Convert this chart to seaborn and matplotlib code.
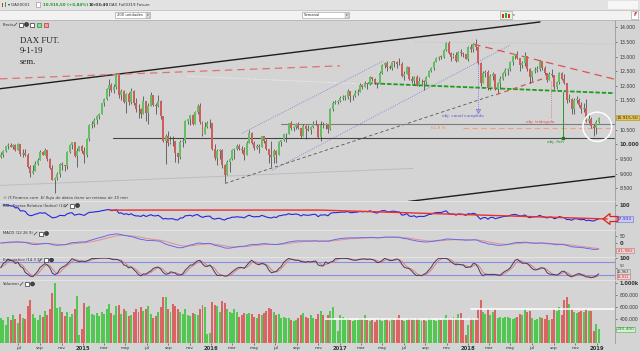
import matplotlib
matplotlib.use('Agg')
import matplotlib.pyplot as plt
import matplotlib.dates as mdates
import matplotlib.transforms as mtrans
from matplotlib.patches import Rectangle, Ellipse, Polygon
import numpy as np
import pandas as pd
import seaborn as sns

# weekly DAX future candles (week of 12 May 2014 .. week of 7 Jan 2019)
first_open = 9560
closes = [9630, 9769, 9943, 9987, 9912, 9987, 9815, 10009, 9666, 9720,
          9644, 9210, 9009, 9092, 9339, 9470, 9747, 9651, 9799, 9490,
          9195, 8788, 8850, 8988, 9326, 9291, 9252, 9732, 9980, 10087,
          9594, 9786, 9927, 9764, 9648, 10167, 10649, 10694, 10846, 10963,
          11050, 11401, 11550, 11901, 12039, 11868, 11967, 12375, 11689, 11810,
          11454, 11709, 11447, 11815, 11413, 11197, 11196, 11041, 11492, 11058,
          11316, 11673, 11347, 11308, 11490, 10985, 10124, 10298, 10038, 10123,
          10104, 9688, 9553, 10096, 10104, 10795, 10850, 10988, 10708, 11119,
          11293, 10752, 10340, 10608, 10727, 10743, 9849, 9545, 9764, 9798,
          9286, 8967, 9388, 9513, 9824, 9831, 9950, 9851, 9794, 9622,
          10051, 10373, 10039, 9870, 9952, 9916, 10286, 10103, 9834, 9631,
          9557, 9776, 9629, 10066, 10147, 10337, 10367, 10713, 10544, 10588,
          10684, 10573, 10276, 10627, 10511, 10490, 10580, 10711, 10696, 10259,
          10668, 10665, 10699, 10513, 11203, 11404, 11450, 11481, 11599, 11629,
          11630, 11814, 11651, 11666, 11757, 11804, 12027, 11963, 12095, 12064,
          12313, 12225, 12109, 12049, 12438, 12717, 12770, 12638, 12602, 12823,
          12816, 12753, 12733, 12325, 12389, 12632, 12240, 12163, 12298, 12015,
          12165, 12168, 12143, 12304, 12519, 12592, 12829, 12956, 12992, 12991,
          13218, 13478, 13128, 12994, 13060, 12862, 13154, 13104, 13073, 12918,
          13320, 13245, 13434, 13340, 12785, 12107, 12452, 12483, 11914, 12346,
          12390, 11887, 12097, 12241, 12442, 12540, 12580, 12820, 13001, 13078,
          12938, 12724, 12767, 13011, 12580, 12306, 12496, 12541, 12561, 12860,
          12616, 12424, 12211, 12395, 12364, 11960, 12124, 12431, 12247, 12111,
          11524, 11554, 11201, 11519, 11529, 11341, 11193, 11257, 10788, 10866,
          10634, 10559, 10767, 10915]
highs = [9730, 9790, 9960, 10030, 10050, 10010, 10000, 10050, 10000, 9830,
         9840, 9700, 9300, 9300, 9420, 9520, 9790, 9770, 9890, 9800,
         9520, 9280, 8900, 9060, 9350, 9390, 9300, 9760, 10000, 10090,
         10070, 9880, 9960, 9980, 9900, 10200, 10700, 10810, 10900, 10990,
         11080, 11420, 11600, 11920, 12220, 12090, 12050, 12390, 12340, 11900,
         11850, 11750, 11800, 11920, 11850, 11570, 11380, 11240, 11650, 11250,
         11400, 11800, 11700, 11400, 11700, 11500, 10970, 10350, 10450, 10300,
         10300, 10100, 9700, 10150, 10200, 10820, 10880, 11000, 11050, 11150,
         11380, 11400, 10800, 10780, 10800, 10870, 10500, 10000, 9850, 9850,
         9850, 9340, 9450, 9540, 9850, 9880, 10020, 10020, 9960, 9900,
         10100, 10480, 10420, 10100, 10020, 10000, 10300, 10300, 10170, 9800,
         10100, 9830, 9800, 10100, 10160, 10350, 10390, 10730, 10800, 10640,
         10740, 10750, 10560, 10680, 10650, 10650, 10630, 10800, 10820, 10700,
         10800, 10780, 10740, 10700, 11230, 11480, 11500, 11500, 11650, 11680,
         11680, 11900, 11820, 11700, 11870, 11900, 12080, 12060, 12150, 12100,
         12330, 12300, 12250, 12100, 12490, 12730, 12800, 12840, 12720, 12850,
         12850, 12830, 12950, 12800, 12520, 12670, 12650, 12330, 12330, 12360,
         12300, 12230, 12200, 12330, 12550, 12650, 12840, 12980, 13020, 13040,
         13250, 13500, 13530, 13150, 13110, 13170, 13180, 13270, 13160, 13080,
         13350, 13420, 13450, 13600, 13370, 12800, 12520, 12550, 12530, 12400,
         12460, 12400, 12130, 12330, 12480, 12600, 12620, 12840, 13020, 13100,
         13200, 12930, 12840, 13170, 13000, 12600, 12520, 12640, 12690, 12890,
         12850, 12690, 12450, 12470, 12570, 12380, 12180, 12470, 12460, 12400,
         12100, 11730, 11580, 11590, 11650, 11600, 11450, 11420, 11550, 11050,
         10950, 10700, 10820, 10950]
lows = [9520, 9560, 9740, 9850, 9900, 9830, 9780, 9800, 9600, 9570,
        9600, 9180, 8900, 9000, 9080, 9300, 9450, 9620, 9640, 9440,
        9150, 8770, 8355, 8780, 8900, 9120, 9100, 9170, 9700, 9850,
        9580, 9220, 9770, 9700, 9380, 9560, 10100, 10560, 10600, 10700,
        10850, 11050, 11300, 11500, 11660, 11800, 11740, 11900, 11600, 11500,
        11400, 11060, 11350, 11390, 11350, 11100, 10900, 10900, 11050, 10800,
        10700, 11300, 11300, 11050, 11280, 10880, 10080, 9340, 9950, 10000,
        9950, 9400, 9350, 9500, 9900, 10050, 10700, 10650, 10650, 10700,
        11050, 10700, 10300, 10350, 10550, 10550, 9800, 9450, 9310, 9500,
        9200, 8700, 8980, 9050, 9450, 9500, 9800, 9800, 9700, 9480,
        9650, 10050, 10000, 9800, 9850, 9700, 9900, 10050, 9800, 9380,
        9210, 9380, 9370, 9650, 9950, 10100, 10080, 10350, 10500, 10450,
        10520, 10530, 10200, 10300, 10180, 10450, 10350, 10550, 10650, 10200,
        10100, 10550, 10530, 10400, 10480, 11150, 11380, 11390, 11450, 11500,
        11500, 11560, 11460, 11500, 11620, 11700, 11780, 11880, 11950, 11900,
        12030, 12180, 12060, 11930, 12150, 12400, 12620, 12500, 12580, 12530,
        12650, 12600, 12700, 12290, 12200, 12400, 12200, 12110, 12050, 11980,
        12000, 12050, 11870, 12050, 12300, 12480, 12540, 12800, 12880, 12930,
        12950, 13200, 13100, 12850, 12960, 12820, 12900, 13030, 13000, 12900,
        12850, 13150, 13150, 13220, 12730, 12000, 12100, 12300, 11860, 11850,
        12200, 11850, 11740, 11880, 12200, 12350, 12380, 12520, 12700, 12930,
        12900, 12520, 12620, 12680, 12520, 12100, 12150, 12420, 12470, 12520,
        12550, 12380, 12120, 12200, 12300, 11880, 11900, 12050, 12200, 12050,
        11400, 11450, 11050, 11050, 11420, 11270, 11070, 11100, 10750, 10730,
        10560, 10280, 10370, 10720]
volume_k = [420, 380, 300, 430, 380, 470, 400, 330, 480, 420,
            400, 620, 720, 480, 420, 380, 470, 430, 540, 470,
            560, 830, 1000, 580, 600, 520, 450, 520, 430, 480,
            560, 780, 130, 240, 660, 600, 620, 480, 470, 500,
            450, 520, 480, 560, 650, 500, 460, 620, 640, 480,
            560, 540, 450, 460, 520, 560, 520, 600, 540, 560,
            620, 480, 420, 450, 520, 600, 760, 770, 560, 520,
            650, 620, 560, 520, 480, 560, 470, 450, 500, 480,
            460, 560, 640, 600, 150, 170, 680, 640, 620, 520,
            700, 660, 560, 520, 500, 560, 520, 440, 460, 500,
            480, 500, 480, 440, 420, 480, 460, 500, 540, 580,
            560, 520, 460, 480, 420, 440, 420, 420, 380, 360,
            380, 420, 460, 500, 440, 420, 460, 420, 400, 480,
            540, 460, 420, 460, 540, 600, 380, 200, 460, 440,
            400, 420, 380, 360, 380, 380, 420, 400, 460, 380,
            360, 380, 350, 400, 420, 360, 380, 400, 360, 420,
            380, 420, 460, 380, 360, 380, 420, 400, 380, 420,
            400, 360, 380, 360, 420, 400, 380, 360, 400, 380,
            420, 460, 420, 400, 440, 420, 480, 500, 380, 130,
            300, 420, 400, 420, 560, 716, 520, 480, 560, 460,
            520, 560, 420, 440, 420, 430, 440, 420, 400, 420,
            440, 480, 460, 560, 520, 540, 420, 380, 400, 440,
            420, 400, 460, 380, 400, 560, 540, 600, 460, 716,
            770, 650, 560, 520, 500, 520, 540, 520, 560, 540,
            540, 200, 316, 230]

# user-drawn studies on the price panel: dates and prices of the end points
upper_black = (['2014-05-10', '2018-07-24'], [11900, 14180])
lower_black = (['2017-07-14', '2019-02-21'], [8048, 8904])
thin_gray = (['2014-05-10', '2017-07-28'], [8596, 9178])
red_dash_old = (['2014-05-10', '2017-01-01'], [12237, 12682])
white_dotted = (['2015-10-24', '2017-02-19'], [12329, 12072])
top_dotted = (['2017-08-03', '2019-02-21'], [13494, 13425])
neckline = (['2017-03-22', '2019-02-21'], [12089, 11747])
red_top = (['2018-01-15', '2019-02-21'], [13425, 12226])
red_tri = (['2018-03-21', '2018-08-10'], [11695, 12278])
chan_up = (['2016-03-28', '2017-05-04'], [10377, 12843])
chan_low = (['2016-06-21', '2018-04-30'], [9110, 13391])
black_dash = (['2016-02-09', '2018-03-13'], [8664, 11678])
support_fich = (['2015-03-27', '2019-02-21'], [10222, 10222])
level_10700 = (['2016-07-17', '2019-02-21'], [10702, 10702])
fib_618 = (['2017-12-17', '2019-02-21'], [10548, 10548])
obj_canal = ('2018-01-28', 12877, 11130)
obj_tri = ('2018-08-25', 12158, 10890)
obj_fich = ('2018-09-28', 11781, 10216)
circle_centre = ('2019-01-03', 10600)

rsi_trend = (['2015-03-19', '2016-11-05', '2019-01-31'], [77.5, 77.5, 38.0])
vol_lines = [(['2016-11-19', '2018-01-29'], [400, 400]),
             (['2018-01-09', '2019-02-21'], [565, 565])]

price_ticks = [8500, 9000, 9500, 10000, 10500, 11500, 12000, 12500, 13000, 13500, 14000]
month_names = ['ene', 'feb', 'mar', 'abr', 'may', 'jun', 'jul', 'ago', 'sep', 'oct', 'nov', 'dic']
last_price, last_rsi, last_macd, last_k, last_d, last_vol = 10915.50, 37.933, -41.982, 16.963, 13.911, 230.4

sns.set_theme(style='white')
plt.rcParams['font.family'] = ['DejaVu Sans']

BG = '#d4d4d4'
UP, DN = '#62c062', '#cc5e5e'
W, H = 640, 352

df = pd.DataFrame({'date': pd.date_range('2014-05-12', periods=len(closes), freq='W-MON'),
                   'close': closes, 'high': highs, 'low': lows, 'vol': volume_k})
df['open'] = [first_open] + closes[:-1]
df['high'] = df[['high', 'open', 'close']].max(axis=1)
df['low'] = df[['low', 'open', 'close']].min(axis=1)
df['up'] = df['close'] >= df['open']
df['x'] = mdates.date2num(df['date'])

# indicators as the platform computes them
delta = df['close'].diff()
gain = delta.clip(lower=0).ewm(alpha=1 / 14, adjust=False).mean()
loss = (-delta.clip(upper=0)).ewm(alpha=1 / 14, adjust=False).mean()
df['rsi'] = 100 - 100 / (1 + gain / loss)
macd = df['close'].ewm(span=12, adjust=False).mean() - df['close'].ewm(span=26, adjust=False).mean()
df['macd'] = macd / 10
df['signal'] = df['macd'].ewm(span=9, adjust=False).mean()
ll = df['low'].rolling(14, min_periods=1).min()
hh = df['high'].rolling(14, min_periods=1).max()
fast_k = 100 * (df['close'] - ll) / (hh - ll)
df['k'] = fast_k.rolling(3, min_periods=1).mean()
df['d'] = df['k'].rolling(3, min_periods=1).mean()

xmin, xmax = mdates.datestr2num('2014-05-10'), mdates.datestr2num('2019-02-21')
dn = lambda s: mdates.datestr2num(s)

fig = plt.figure(figsize=(6.4, 3.52), dpi=100, facecolor=BG)


def rect_px(x0, y0, x1, y1, **kw):
    fig.add_artist(Rectangle((x0 / W, 1 - y1 / H), (x1 - x0) / W, (y1 - y0) / H,
                             transform=fig.transFigure, **kw))


def txt(x, y, s, **kw):
    kw.setdefault('fontsize', 3.2)
    kw.setdefault('va', 'center')
    kw.setdefault('color', '#303030')
    fig.text(x / W, 1 - y / H, s, **kw)


def icons(x, y):
    # pencil, window and gear icons next to each study title
    fig.add_artist(plt.Line2D([x / W, (x + 3) / W], [1 - (y + 1.5) / H, 1 - (y - 1.5) / H],
                              transform=fig.transFigure, color='#555555', lw=0.6))
    rect_px(x + 5, y - 2, x + 9, y + 2, fc='white', ec='#333333', lw=0.5)
    fig.add_artist(Ellipse(((x + 12.5) / W, 1 - y / H), 4 / W, 4 / H, transform=fig.transFigure,
                           fc='#444444', ec='#222222', lw=0.4))


def panel(y0, y1):
    ax = fig.add_axes([0, 1 - y1 / H, 614.5 / W, (y1 - y0) / H])
    ax.set_facecolor(BG)
    for s in ['top', 'left', 'bottom']:
        ax.spines[s].set_visible(False)
    ax.spines['right'].set_color('#9a9a9a')
    ax.spines['right'].set_linewidth(0.6)
    ax.yaxis.tick_right()
    ax.tick_params(axis='y', labelsize=3.3, length=1.5, width=0.4, pad=2.2, colors='#333333')
    ax.tick_params(axis='x', bottom=False, labelbottom=False)
    ax.set_xlim(xmin, xmax)
    return ax


def value_box(ax, y, s, fc, ec, tc, dy=0, size=3.2):
    tr = mtrans.blended_transform_factory(ax.transAxes, ax.transData)
    ax.annotate(s, (1.004, y), xycoords=tr, xytext=(0, dy), textcoords='offset points',
                fontsize=size, color=tc, va='center', ha='left', annotation_clip=False,
                bbox=dict(boxstyle='square,pad=0.12', fc=fc, ec=ec, lw=0.4), zorder=10)


def draw(ax, seg, **kw):
    ax.plot([dn(d) for d in seg[0]], seg[1], **kw)


# ---- toolbars
rect_px(0, 0, 640, 9.5, fc='#e2e2e2', ec='none')
rect_px(0, 9.5, 640, 20, fc='#f2f2f2', ec='none')
fig.add_artist(plt.Line2D([0, 1], [1 - 9.5 / H] * 2, transform=fig.transFigure, color='#b8b8b8', lw=0.5))
fig.add_artist(plt.Line2D([0, 1], [1 - 20 / H] * 2, transform=fig.transFigure, color='#b0b0b0', lw=0.5))
rect_px(2, 3, 3.5, 7, fc='#cc3333', ec='none')
rect_px(4.5, 2, 6, 7, fc='#33aa33', ec='none')
txt(8, 5, '\u25be DAX0001', fontsize=2.9)
rect_px(36, 2.5, 39.5, 7, fc='white', ec='#888888', lw=0.4)
txt(43, 5, '10.915,50 (+0,84%)', fontsize=2.9, color='#1f9a1f', weight='bold')
txt(89, 5, '10:03:40', fontsize=2.9, weight='bold')
txt(109, 5, 'DAX Full0319 Future', fontsize=2.9)
rect_px(608, 1, 638, 8.5, fc='#f6f6f6', ec='none')
rect_px(115, 12, 150, 18, fc='white', ec='#9a9a9a', lw=0.4)
txt(117, 15, '200 unidades', fontsize=2.7)
rect_px(146, 12.5, 149.5, 17.5, fc='#e0e0e0', ec='#9a9a9a', lw=0.3)
txt(147, 15, '\u25be', fontsize=2.5)
rect_px(302, 12, 349, 18, fc='white', ec='#9a9a9a', lw=0.4)
txt(304, 15, 'Semanal', fontsize=2.7)
rect_px(345, 12.5, 348.5, 17.5, fc='#e0e0e0', ec='#9a9a9a', lw=0.3)
txt(346, 15, '\u25be', fontsize=2.5)
rect_px(500, 11.5, 512, 18.5, fc='#eaf2dc', ec='#9a9a9a', lw=0.4)
rect_px(502, 14, 503.5, 17.5, fc='#cc3333', ec='none')
rect_px(505, 13, 506.5, 17.5, fc='#33aa33', ec='none')
rect_px(508, 14.5, 509.5, 17.5, fc='#cc3333', ec='none')
txt(513, 15, '\u25be', fontsize=2.5)
rect_px(631, 11, 638, 19, fc='white', ec='#9a9a9a', lw=0.4)
txt(633.5, 15, 'f', fontsize=4, color='#cc2222', weight='bold', style='italic')

# ---- price panel
ax = panel(20, 201.5)
ax.set_ylim(8048, 14247)
ax.vlines(df['x'], df['low'], df['high'], color='#3a3a3a', lw=0.5, zorder=3)
body_bottom = df[['open', 'close']].min(axis=1)
body_h = (df['close'] - df['open']).abs().clip(lower=14)
ax.bar(df['x'], body_h, bottom=body_bottom, width=5.6, color=np.where(df['up'], UP, DN), linewidth=0, zorder=4)

draw(ax, upper_black, color='#1e1e1e', lw=1.0)
draw(ax, lower_black, color='#1e1e1e', lw=1.0)
draw(ax, thin_gray, color='#bdbdbd', lw=0.7)
draw(ax, red_dash_old, color='#e07070', lw=0.9, ls=(0, (6, 4)))
draw(ax, white_dotted, color='#f4f4f4', lw=0.7, ls=(0, (1, 1.5)))
draw(ax, top_dotted, color='#bababa', lw=0.6, ls=(0, (1, 1.5)))
draw(ax, chan_up, color='#7a7ad8', lw=0.6, ls=(0, (1, 1.5)))
draw(ax, chan_low, color='#7a7ad8', lw=0.6, ls=(0, (1, 1.5)))
draw(ax, black_dash, color='#555555', lw=0.6, ls=(0, (4, 3)))
draw(ax, support_fich, color='#444444', lw=0.8)
draw(ax, level_10700, color='#7c7c7c', lw=0.8)
draw(ax, fib_618, color='#f0a080', lw=0.8, ls=(0, (5, 3)))
draw(ax, neckline, color='#1e9e1e', lw=1.3, ls=(0, (2.5, 1)))
draw(ax, red_top, color='#e05050', lw=0.9, ls=(0, (6, 4)))
draw(ax, red_tri, color='#e05050', lw=0.9, ls=(0, (4, 3)))

xd = dn(obj_canal[0])
ax.plot([xd, xd], obj_canal[1:], color='#6a6ad6', lw=0.6, ls=(0, (1, 1.5)))
ax.plot([xd], [obj_canal[2]], marker='v', ms=3, mfc='none', mec='#6a6ad6', mew=0.5)
xd = dn(obj_tri[0])
ax.plot([xd, xd], obj_tri[1:], color='#e06060', lw=0.6, ls=(0, (1, 1.5)))
xd = dn(obj_fich[0])
ax.plot([xd, xd], obj_fich[1:], color='#2a9a2a', lw=0.7)
ax.plot([xd], [obj_fich[2]], marker='s', ms=2, color='#1c7a1c')
ax.text(dn('2017-12-17'), 10959, 'obj. canal cumplido', fontsize=3.1, color='#5a5ad0', ha='center', va='center')
ax.text(dn('2018-07-24'), 10770, 'obj. triángulo', fontsize=3.1, color='#e05050', ha='center', va='center')
ax.text(dn('2018-09-06'), 10068, 'obj. fich', fontsize=3.1, color='#2a8a2a', ha='center', va='center')
ax.text(dn('2017-10-07'), 10548, '61,8 %', fontsize=3.1, color='#f08a50', ha='center', va='center')
ax.add_patch(Ellipse((dn(circle_centre[0]), circle_centre[1]), 82, 1000, fill=False, ec='white', lw=1.1, zorder=6))

ax.set_yticks(price_ticks)
ax.set_yticklabels([f'{v:,}'.replace(',', '.') for v in price_ticks])
for lab in ax.get_yticklabels():
    if lab.get_text() == '10.000':
        lab.set_fontsize(3.7)
        lab.set_fontweight('bold')
value_box(ax, last_price, '10.915,50', '#e8c64e', '#a88a2a', '#222222', size=3.1)

txt(3, 24.5, 'Precio', fontsize=2.7)
icons(14, 24.5)
rect_px(30, 22.5, 34, 26.5, fc='white', ec='#333333', lw=0.5)
rect_px(37, 22.5, 41, 26.5, fc='#8fd88f', ec='#2a8a2a', lw=0.5)
rect_px(44, 22.5, 48, 26.5, fc='#f0a0a0', ec='#c03030', lw=0.5)
txt(20, 41, 'DAX FUT.', fontsize=6.3, family='Liberation Serif', color='#222222')
txt(20, 51, '9-1-19', fontsize=6.3, family='Liberation Serif', color='#222222')
txt(20, 61.5, 'sem.', fontsize=6.3, family='Liberation Serif', color='#222222')
txt(3, 198, '\u00a9 IT-Finance.com  El flujo de datos tiene un retraso de 15 min', fontsize=2.9,
    style='italic', color='#333333')

# ---- RSI panel
ax = panel(202, 229)
ax.set_ylim(-6.4, 113.3)
sns.lineplot(data=df, x='x', y='rsi', ax=ax, color='#2626e0', lw=0.8)
ax.plot([dn(d) for d in rsi_trend[0]], rsi_trend[1], color='#e83030', lw=1.0)
ax.set_yticks([100])
ax.set_yticklabels(['100'], fontweight='bold', fontsize=3.6)
value_box(ax, last_rsi, '37,933', '#cacaf2', '#7070c0', '#2a2ad0')
ax.set_xlabel('')
ax.set_ylabel('')
arrow = [(603, 219), (610, 213.5), (610, 216.5), (618, 216.5), (618, 221.5), (610, 221.5), (610, 224.5)]
fig.add_artist(Polygon([(x / W, 1 - y / H) for x, y in arrow], closed=True, fill=False, ec='#e02020', lw=0.9,
                       transform=fig.transFigure, zorder=20))
txt(3, 205.5, 'RSI - Fuerza Relativa (Índice) (14)', fontsize=2.7)
icons(65, 205.5)

# ---- MACD panel
ax = panel(230, 256)
ax.set_ylim(-93, 93)
sns.lineplot(data=df, x='x', y='signal', ax=ax, color='#e09090', lw=0.7)
sns.lineplot(data=df, x='x', y='macd', ax=ax, color='#6a6ae6', lw=0.7)
ax.set_yticks([50, 0])
ax.set_yticklabels(['50', '0'])
ax.get_yticklabels()[1].set_fontweight('bold')
ax.get_yticklabels()[1].set_fontsize(3.8)
value_box(ax, last_macd, '-41,982', '#f2d2d2', '#c07070', '#d03030', dy=-1.5)
ax.set_xlabel('')
ax.set_ylabel('')
txt(3, 233.5, 'MACD (12 26 9)', fontsize=2.7)
icons(34, 233.5)

# ---- stochastic panel
ax = panel(257, 279)
ax.set_ylim(-1.4, 103.8)
ax.axhline(80, color='#8c8ce6', lw=0.8)
ax.axhline(20, color='#8c8ce6', lw=0.8)
sns.lineplot(data=df, x='x', y='d', ax=ax, color='#d88080', lw=0.7)
sns.lineplot(data=df, x='x', y='k', ax=ax, color='#4a3a5e', lw=0.7)
ax.set_yticks([100, 50])
ax.set_yticklabels(['100', '50'])
ax.get_yticklabels()[0].set_fontweight('bold')
ax.get_yticklabels()[0].set_fontsize(3.6)
ax.get_yticklabels()[1].set_fontsize(2.7)
ax.get_yticklabels()[1].set_va('bottom')
value_box(ax, last_k, '16,963', '#dcdcdc', '#888888', '#303030', dy=2.6, size=2.6)
value_box(ax, last_d, '13,911', '#f2d2d2', '#c07070', '#d03030', dy=-0.8, size=2.6)
ax.set_xlabel('')
ax.set_ylabel('')
txt(3, 260, 'Estocástico (14 3 3)', fontsize=2.7)
icons(39, 260)

# ---- volume panel
ax = panel(280, 343)
ax.set_ylim(0, 1050)
ax.bar(df['x'], df['vol'], width=5.6, color=np.where(df['up'], '#52c852', '#da6464'), linewidth=0)
for seg in vol_lines:
    draw(ax, seg, color='white', lw=1.1)
ax.set_yticks([1000, 800, 600, 400])
ax.set_yticklabels(['1.000k', '800.000', '600.000', '400.000'])
ax.get_yticklabels()[0].set_fontweight('bold')
ax.get_yticklabels()[0].set_fontsize(3.6)
value_box(ax, last_vol, '230.400', '#d2f0d2', '#60a060', '#1f8a1f')
txt(3, 284, 'Volumen', fontsize=2.7)
icons(20, 284)

tick_dates = pd.date_range('2014-07-01', '2019-01-01', freq='2MS')
ax.set_xticks(mdates.date2num(tick_dates))
ax.set_xticklabels([str(d.year) if d.month == 1 else month_names[d.month - 1] for d in tick_dates])
ax.tick_params(axis='x', bottom=True, labelbottom=True, length=1.2, width=0.4, pad=1.2,
               labelsize=3.2, colors='#303030')
for lab, d in zip(ax.get_xticklabels(), tick_dates):
    if d.month == 1:
        lab.set_fontweight('bold')
        lab.set_fontsize(3.8)

for yb in [201.5, 229.5, 256.5, 279.5]:
    fig.add_artist(plt.Line2D([0, 614.5 / W], [1 - yb / H] * 2, transform=fig.transFigure,
                              color='#e6e6e6', lw=0.6))

fig.savefig('out.png', dpi=100, facecolor=BG)
